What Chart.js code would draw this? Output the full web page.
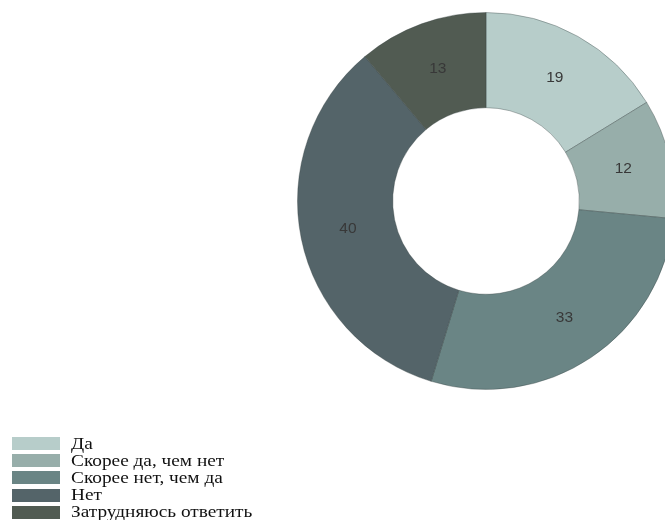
<!DOCTYPE html>
<html>
<head>
<meta charset="utf-8">
<script src="https://cdn.jsdelivr.net/npm/chart.js@4/dist/chart.umd.min.js"></script>
<style>
  html, body { margin: 0; padding: 0; background: #fff; overflow: hidden; width: 665px; height: 520px; }
  #wrap { position: absolute; left: 0; top: 0; width: 720px; height: 520px; }
  #legend { position: absolute; left: 12px; top: 435px; font-family: "Liberation Serif", "Times New Roman", serif; font-size: 16.5px; color: #111; }
  .row { height: 17.2px; display: flex; align-items: center; }
  .box { width: 48px; height: 13px; margin-right: 11px; flex: none; }
  .row span { display: inline-block; transform: scaleX(1.17); transform-origin: left center; white-space: nowrap; }
</style>
</head>
<body>
<div id="wrap"><canvas id="c" width="720" height="520"></canvas></div>
<div id="legend"></div>
<script>
const categories = ["Да", "Скорее да, чем нет", "Скорее нет, чем да", "Нет", "Затрудняюсь ответить"];
const values = [19, 12, 33, 40, 13];
const colors = ["#b7cdca", "#97aeaa", "#6a8585", "#546469", "#515b52"];

const labelPlugin = {
  id: 'sliceLabels',
  afterDatasetsDraw(chart) {
    const ctx = chart.ctx;
    const meta = chart.getDatasetMeta(0);
    ctx.save();
    ctx.font = '15.5px "Liberation Sans", Arial, sans-serif';
    ctx.fillStyle = '#383838';
    ctx.textAlign = 'center';
    ctx.textBaseline = 'middle';
    meta.data.forEach((arc, i) => {
      const p = arc.tooltipPosition();
      ctx.fillText(String(chart.data.datasets[0].data[i]), p.x, p.y);
    });
    ctx.restore();
  }
};

new Chart(document.getElementById('c'), {
  type: 'doughnut',
  data: {
    labels: categories,
    datasets: [{
      data: values,
      backgroundColor: colors,
      borderColor: 'rgba(50,60,60,0.35)',
      borderWidth: 1
    }]
  },
  options: {
    responsive: false,
    animation: false,
    cutout: '49.5%',
    layout: { padding: { left: 297, top: 12, right: 720 - 675, bottom: 520 - 390 } },
    plugins: { legend: { display: false }, tooltip: { enabled: false } }
  },
  plugins: [labelPlugin]
});

const lg = document.getElementById('legend');
categories.forEach((c, i) => {
  const r = document.createElement('div');
  r.className = 'row';
  const b = document.createElement('div');
  b.className = 'box';
  b.style.background = colors[i];
  const t = document.createElement('span');
  t.textContent = c;
  r.appendChild(b); r.appendChild(t);
  lg.appendChild(r);
});
</script>
</body>
</html>
